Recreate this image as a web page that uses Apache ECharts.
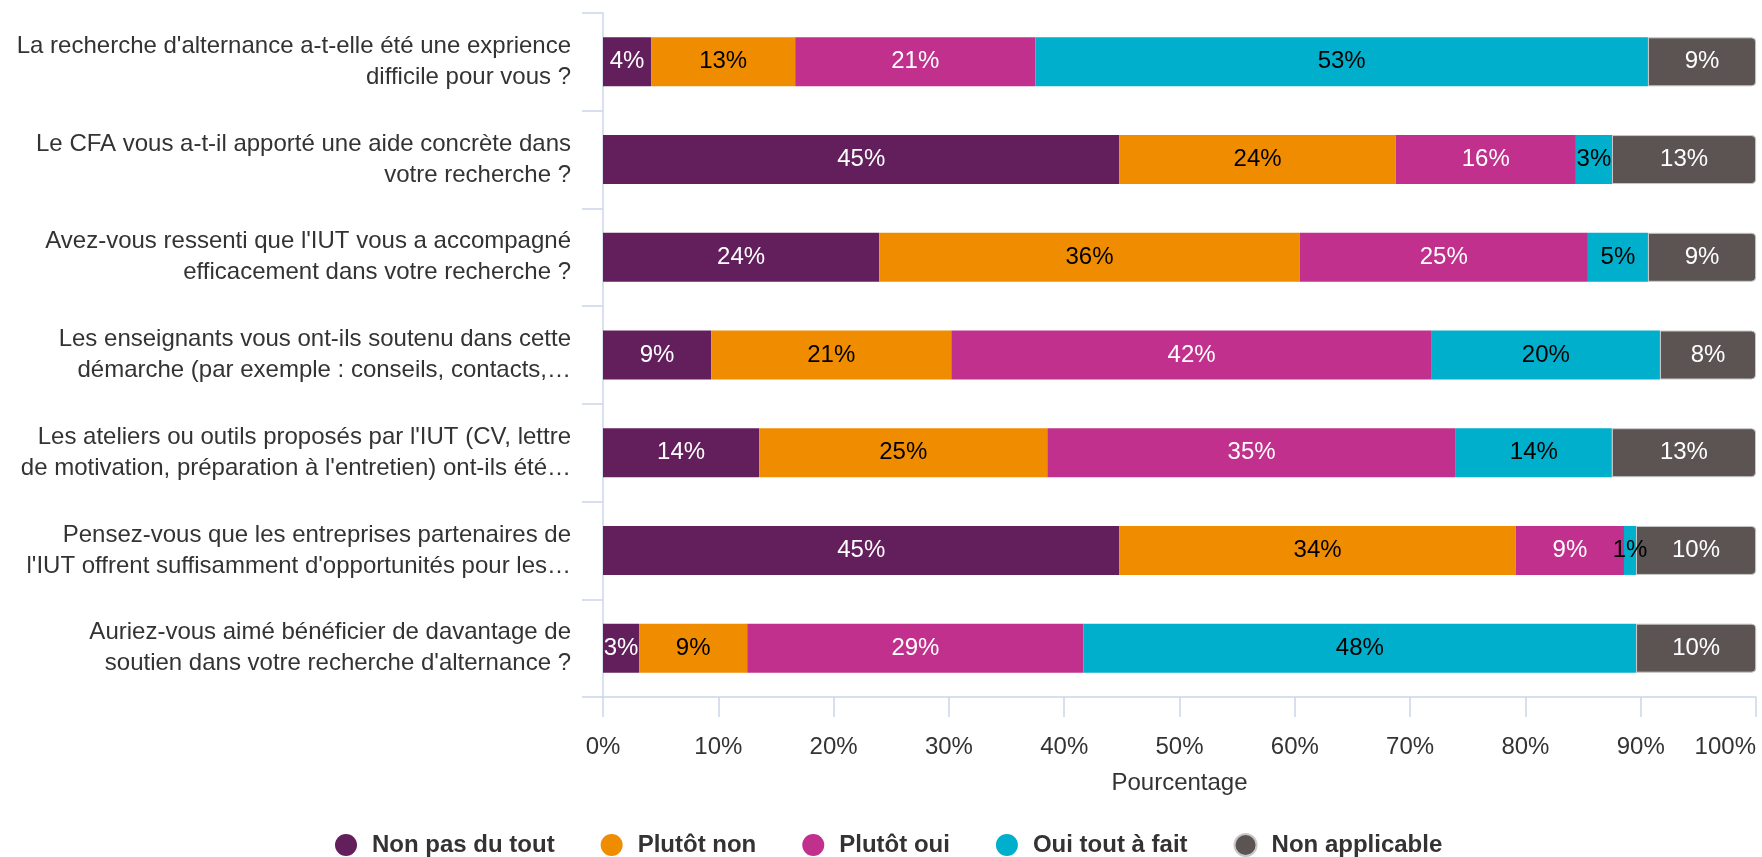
<!DOCTYPE html>
<html>
<head>
<meta charset="utf-8">
<script src="https://cdn.jsdelivr.net/npm/echarts@6/dist/echarts.min.js"></script>
<style>
html,body{margin:0;padding:0;background:#fff;}
#chart{width:1762px;height:857px;}
</style>
</head>
<body>
<div id="chart"></div>
<script>
const categories = [
  "La recherche d'alternance a-t-elle été une exprience\ndifficile pour vous ?",
  "Le CFA vous a-t-il apporté une aide concrète dans\nvotre recherche ?",
  "Avez-vous ressenti que l'IUT vous a accompagné\nefficacement dans votre recherche ?",
  "Les enseignants vous ont-ils soutenu dans cette\ndémarche (par exemple : conseils, contacts,…",
  "Les ateliers ou outils proposés par l'IUT (CV, lettre\nde motivation, préparation à l'entretien) ont-ils été…",
  "Pensez-vous que les entreprises partenaires de\nl'IUT offrent suffisamment d'opportunités pour les…",
  "Auriez-vous aimé bénéficier de davantage de\nsoutien dans votre recherche d'alternance ?"
];
const seriesNames = ["Non pas du tout", "Plutôt non", "Plutôt oui", "Oui tout à fait", "Non applicable"];
const nonPasDuTout   = [4.17, 44.79, 23.96, 9.38, 13.54, 44.79, 3.13];
const plutotNon      = [12.50, 23.96, 36.46, 20.83, 25.00, 34.38, 9.38];
const plutotOui      = [20.83, 15.63, 25.00, 41.67, 35.42, 9.38, 29.17];
const ouiToutAFait   = [53.13, 3.13, 5.21, 19.79, 13.54, 1.04, 47.92];
const nonApplicable  = [9.38, 12.50, 9.38, 8.33, 12.50, 10.42, 10.42];
const xTicks = [0, 10, 20, 30, 40, 50, 60, 70, 80, 90, 100];

const colors = ['#631f5b', '#f08c00', '#c0308c', '#00afcc', '#5c5353'];
const labelColors = ['#ffffff', '#000000', '#ffffff', '#000000', '#ffffff'];
const seriesData = [nonPasDuTout, plutotNon, plutotOui, ouiToutAFait, nonApplicable];
const FONT = "'Liberation Sans', Arial, sans-serif";
const axisColor = '#ccd6eb';

const chart = echarts.init(document.getElementById('chart'), null, {renderer: 'canvas'});
chart.setOption({
  animation: false,
  textStyle: {fontFamily: FONT},
  color: colors,
  grid: {left: 603, right: 6, top: 13, bottom: 160, containLabel: false, outerBoundsMode: 'none'},
  legend: {
    data: seriesNames,
    left: 330,
    top: 828,
    icon: 'circle',
    itemWidth: 22,
    itemHeight: 22,
    itemGap: 46,
    textStyle: {fontSize: 24, fontWeight: 'bold', color: '#333', fontFamily: FONT, padding: [0, 0, 0, 10]}
  },
  xAxis: {
    type: 'value',
    min: xTicks[0],
    max: xTicks[xTicks.length - 1],
    interval: 10,
    name: 'Pourcentage',
    nameLocation: 'middle',
    nameGap: 74,
    nameTextStyle: {fontSize: 24, color: '#333', fontFamily: FONT},
    axisLine: {show: true, lineStyle: {color: axisColor, width: 1.5}},
    axisTick: {show: true, length: 20, lineStyle: {color: axisColor, width: 1.5}},
    splitLine: {show: false},
    axisLabel: {fontSize: 24, color: '#333', margin: 38, fontFamily: FONT, formatter: '{value}%', alignMaxLabel: 'right'}
  },
  yAxis: {
    type: 'category',
    inverse: true,
    data: categories,
    axisLine: {show: true, lineStyle: {color: axisColor, width: 1.5}},
    axisTick: {show: true, length: 21, lineStyle: {color: axisColor, width: 1.5}},
    splitLine: {show: false},
    axisLabel: {fontSize: 24, color: '#333', margin: 32, lineHeight: 31, padding: [4, 0, 0, 0], align: 'right', fontFamily: FONT}
  },
  series: seriesNames.map((name, i) => ({
    name: name,
    type: 'bar',
    stack: 'total',
    barWidth: 49,
    data: seriesData[i],
    itemStyle: i === 4
      ? {color: colors[i], borderRadius: [0, 4, 4, 0], borderColor: '#c8c8c8', borderWidth: 1}
      : {color: colors[i]},
    label: {
      show: true,
      position: 'inside',
      fontSize: 24,
      fontFamily: FONT,
      color: labelColors[i],
      textBorderWidth: 0,
      formatter: p => Math.round(p.value) + '%'
    }
  }))
});
</script>
</body>
</html>
